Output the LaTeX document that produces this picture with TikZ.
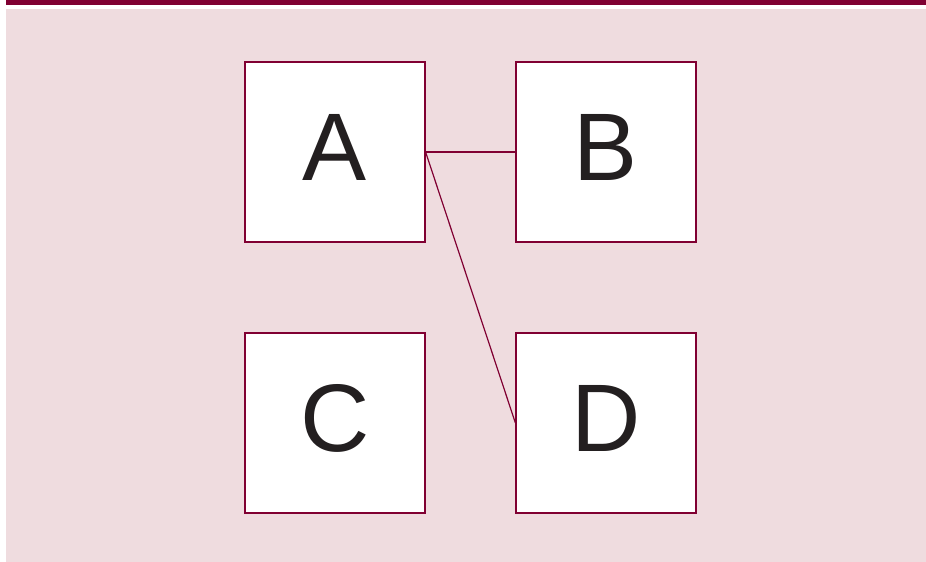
\documentclass[tikz,border=0pt]{standalone}
\usepackage{fontspec}
\setmainfont{Liberation Sans}
\definecolor{maroon}{RGB}{128,0,50}
\definecolor{pinkbg}{RGB}{239,220,223}
\definecolor{ink}{RGB}{35,31,32}
\newcommand{\boxlabel}[1]{\raisebox{9.5pt}{#1}}
\begin{document}
\begin{tikzpicture}[x=1pt,y=-1pt,
  box/.style={draw=maroon,line width=1.2pt,fill=white,minimum width=180pt,minimum height=180pt,inner sep=0pt,font=\fontsize{96}{96}\selectfont,text=ink},
  link/.style={draw=maroon,line width=1.2pt}]
\useasboundingbox (0,0) rectangle (926,562);
\fill[white] (0,0) rectangle (926,562);
\fill[maroon] (6,0) rectangle (926,4.5);
\fill[pinkbg] (6,9) rectangle (926,562);
\node[box] (A) at (335,152) {\boxlabel{A}};
\node[box] (B) at (606,152) {\boxlabel{B}};
\node[box] (C) at (335,423) {\boxlabel{C}};
\node[box] (D) at (606,423) {\boxlabel{D}};
\draw[link] (A.east) -- (B.west);
\draw[link] (A.east) -- (D.west);
\end{tikzpicture}
\end{document}
